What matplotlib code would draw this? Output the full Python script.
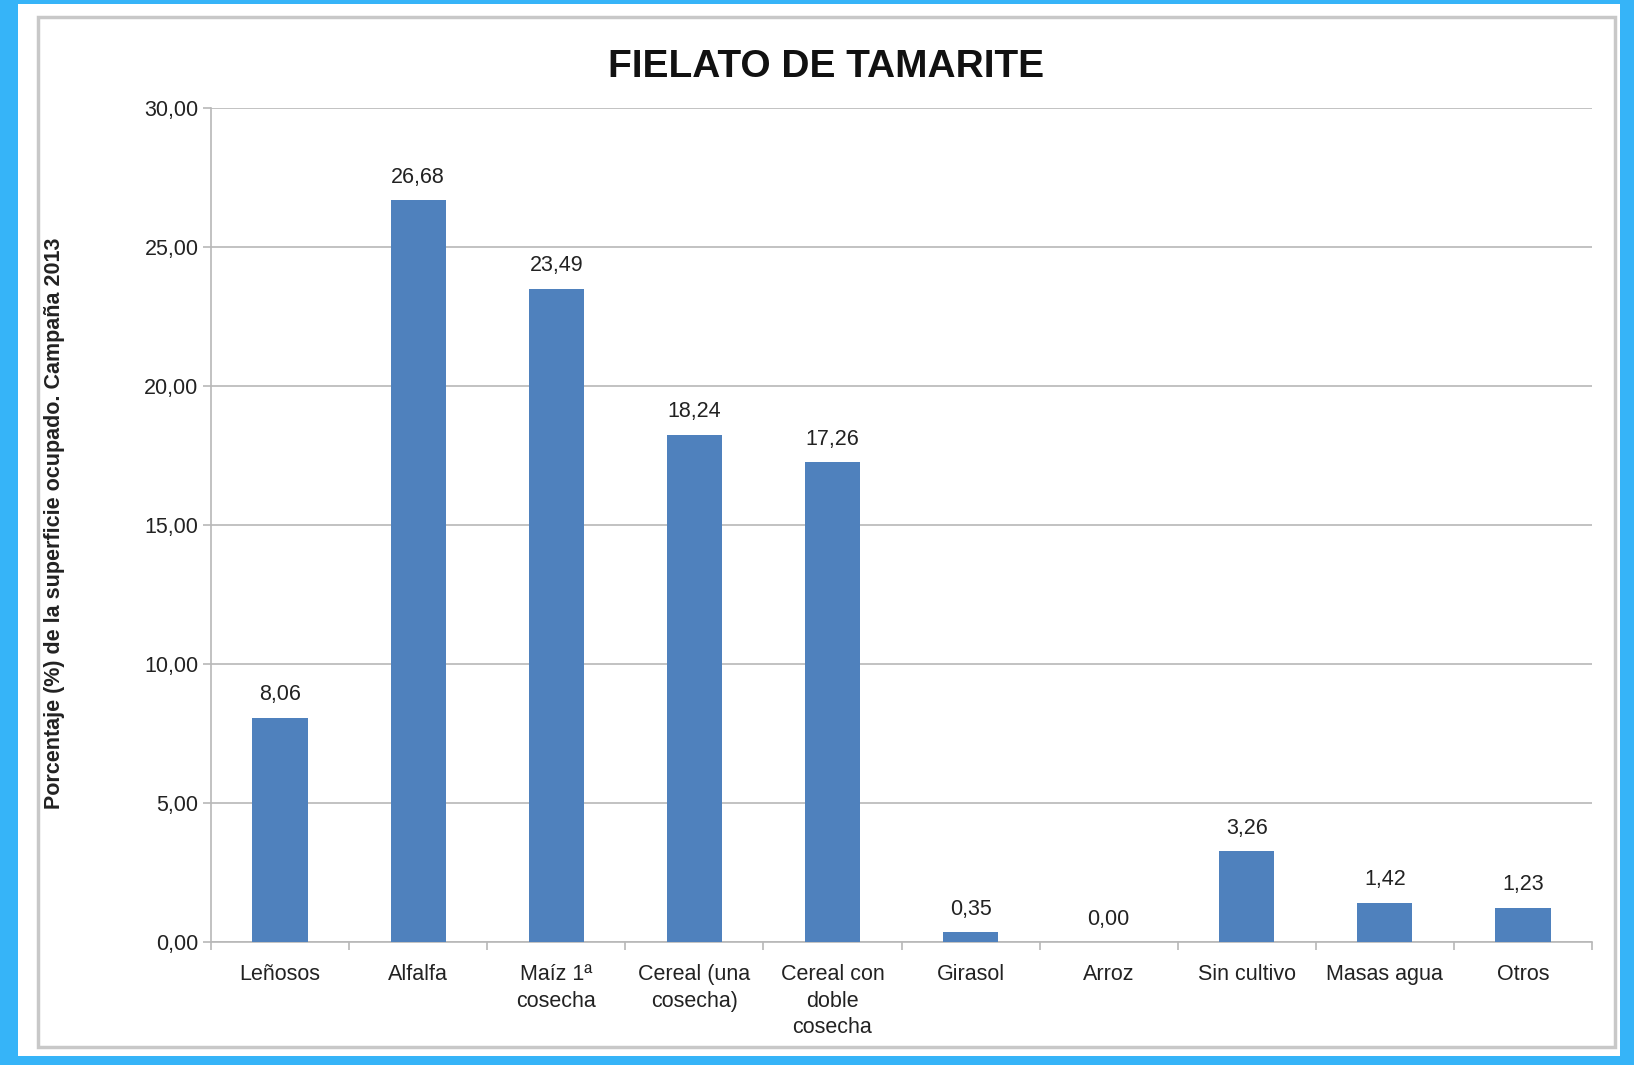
import numpy as np
import matplotlib.pyplot as plt
from matplotlib.patches import Rectangle
from matplotlib.ticker import FuncFormatter

# Data
categorias = ["Leñosos", "Alfalfa", "Maíz 1ª\ncosecha", "Cereal (una\ncosecha)",
              "Cereal con\ndoble\ncosecha", "Girasol", "Arroz", "Sin cultivo",
              "Masas agua", "Otros"]
porcentajes = [8.06, 26.68, 23.49, 18.24, 17.26, 0.35, 0.00, 3.26, 1.42, 1.23]
y_ticks = [0, 5, 10, 15, 20, 25, 30]

BAR_COLOR = "#4f81bd"
TEXT_COLOR = "#222222"
GRID_COLOR = "#b8b8b8"

plt.rcParams['font.family'] = ['Liberation Sans', 'DejaVu Sans']

W, H = 1634, 1065
fig = plt.figure(figsize=(W / 100, H / 100), dpi=100)
fig.patch.set_facecolor("#36b4f8")

# white page and grey frame
fig.patches.append(Rectangle((18 / W, 1 - 1056 / H), (1620 - 18) / W, (1056 - 4) / H,
                             transform=fig.transFigure, facecolor="white",
                             edgecolor="none", zorder=-2))
fig.patches.append(Rectangle((38 / W, 1 - 1047 / H), (1615 - 38) / W, (1047 - 17) / H,
                             transform=fig.transFigure, facecolor="white",
                             edgecolor="#c8c8c8", linewidth=2.5, zorder=-1))

ax = fig.add_axes([211 / W, 1 - 942 / H, (1592 - 211) / W, (942 - 108) / H])
ax.patch.set_alpha(0)

x = np.arange(len(categorias))
bars = ax.bar(x, porcentajes, width=0.4, color=BAR_COLOR, zorder=3)

for xi, v in zip(x, porcentajes):
    ax.annotate(f"{v:.2f}".replace(".", ","), (xi, v), xytext=(0, 9),
                textcoords="offset points", ha="center", va="bottom",
                fontsize=15.5, color=TEXT_COLOR)

ax.set_xlim(-0.5, len(categorias) - 0.5)
ax.set_ylim(0, 30)
ax.set_yticks(y_ticks)
ax.yaxis.set_major_formatter(FuncFormatter(lambda v, p: f"{v:.2f}".replace(".", ",")))
ax.yaxis.grid(True, color=GRID_COLOR, linewidth=1.2, zorder=0)
ax.set_axisbelow(True)

ax.set_xticks(x)
ax.set_xticklabels(categorias, fontsize=15.5, color=TEXT_COLOR, linespacing=1.33)
ax.set_xticks(np.arange(-0.5, len(categorias)), minor=True)
ax.tick_params(axis="x", which="major", length=0, pad=16)
ax.tick_params(axis="x", which="minor", length=6, color=GRID_COLOR, width=1.2)
ax.tick_params(axis="y", length=6, color=GRID_COLOR, width=1.2, labelsize=15.5,
               labelcolor=TEXT_COLOR, pad=3)

for s in ["top", "right"]:
    ax.spines[s].set_visible(False)
for s in ["left", "bottom"]:
    ax.spines[s].set_color(GRID_COLOR)
    ax.spines[s].set_linewidth(1.2)

ax.set_ylabel("Porcentaje (%) de la superficie ocupado. Campaña 2013",
              fontsize=15.5, fontweight="bold", color=TEXT_COLOR, labelpad=0)
ax.yaxis.set_label_coords((65 - 211) / (1592 - 211), (942 - 523) / (942 - 108))

fig.text(826 / W, 1 - 67 / H, "FIELATO DE TAMARITE", ha="center", va="center",
         fontsize=28, fontweight="bold", color="#111111")

fig.savefig("out.png", dpi=100, facecolor=fig.get_facecolor())
